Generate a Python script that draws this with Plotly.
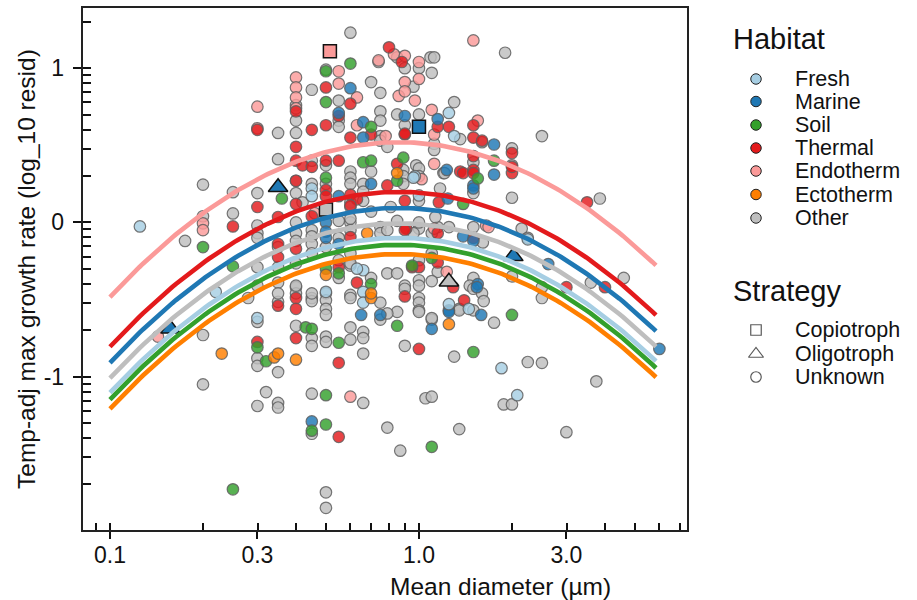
import numpy as np
import plotly.graph_objects as go

# ---------------- data ----------------
HABITATS = ["Fresh", "Marine", "Soil", "Thermal", "Endotherm", "Ectotherm", "Other"]
COLORS = ["#A6CEE3", "#1F78B4", "#33A02C", "#E31A1C", "#FB9A99", "#FF7F00", "#BEBEBE"]
STRATEGIES = ["Copiotroph", "Oligotroph", "Unknown"]

# (mean diameter um, temp-adj max growth rate log10 resid) for strategy = Unknown
other = [
    (0.60, 1.23), (0.85, 1.07), (0.74, 1.04), (0.50, 0.99), (0.70, 0.91), (0.45, 0.86), (0.75, 0.84), (0.55, 0.79),
    (0.40, 0.76), (0.40, 0.66), (0.55, 0.66), (0.75, 0.72), (0.75, 0.66), (0.35, 0.58), (0.40, 0.58), (0.55, 0.62),
    (0.35, 0.41), (0.45, 0.40), (0.50, 0.37), (0.70, 0.33), (0.60, 0.33), (0.60, 0.29), (0.40, 0.27), (0.45, 0.25),
    (0.50, 0.25), (0.60, 0.25), (0.66, 0.25), (0.66, 0.20), (0.30, 0.19), (0.40, 0.19), (0.42, 0.13), (0.60, 0.13),
    (0.30, -0.02), (0.40, 0.00), (0.45, -0.05), (0.60, 0.00), (0.60, -0.05), (0.55, -0.10), (0.45, -0.09),
    (1.90, 1.10), (1.09, 1.07), (1.12, 1.07), (0.90, 1.00), (1.00, 1.00), (1.10, 0.97), (0.96, 0.88), (1.30, 0.78),
    (1.00, 0.70), (0.90, 0.63), (1.36, 0.54), (1.60, 0.52), (2.50, 0.56), (1.12, 0.51), (1.12, 0.47), (1.50, 0.39),
    (2.00, 0.48), (2.00, 0.37), (1.20, 0.32), (2.00, 0.16), (0.89, 0.34), (0.89, 0.30), (0.89, 0.25), (0.98, 0.37),
    (1.17, 0.22), (1.50, 0.19), (1.25, -0.03), (1.50, -0.03), (2.15, -0.04), (1.00, -0.04), (2.25, -0.10), (3.85, 0.155),
    (2.50, -0.42), (4.60, -0.36), (3.60, -0.39), (2.00, -0.35), (2.50, -0.49), (2.25, -0.905), (2.50, -0.91), (3.75, -1.03),
    (1.88, -1.18), (2.00, -1.18), (3.00, -1.36), (1.15, -0.32), (1.10, -0.38), (0.90, -0.41), (0.90, -0.43), (1.00, -0.375),
    (1.00, -0.41), (1.00, -0.49), (1.00, -0.52), (1.00, -0.57), (1.50, -0.36), (1.46, -0.41), (1.50, -0.43), (1.60, -0.46),
    (1.62, -0.51), (1.35, -0.56), (1.10, -0.63), (1.75, -0.65),
    (0.90, -0.80), (1.30, -0.87), (1.05, -1.14), (1.10, -1.13), (1.35, -1.34), (0.87, -1.48),
    (0.30, -0.88), (0.30, -0.93), (0.30, -1.19), (0.32, -1.10), (0.35, -0.97), (0.35, -1.17), (0.35, -1.20), (0.35, -0.515),
    (0.40, -0.42), (0.40, -0.46), (0.40, -0.67), (0.45, -0.49), (0.45, -0.51), (0.45, -0.75), (0.45, -0.80), (0.45, -1.11),
    (0.45, -1.37), (0.50, -0.46), (0.50, -0.505), (0.50, -0.56), (0.50, -0.60), (0.50, -0.74), (0.50, -0.775), (0.55, -0.36),
    (0.60, -0.28), (0.60, -0.47), (0.60, -0.49), (0.60, -0.68), (0.60, -0.76), (0.66, -1.17), (0.66, -0.71), (0.66, -0.75),
    (0.66, -0.85), (0.70, -0.36), (0.75, -0.52), (0.75, -0.63), (0.79, -0.33), (0.85, -0.33), (0.85, -0.58), (0.79, -1.33),
    (0.50, -1.75), (0.50, -1.85), (0.79, -0.59), (1.00, -0.58), (1.35, -0.57), (1.50, -0.57), (1.10, -0.62),
    (0.175, -0.12), (0.20, 0.04), (0.20, 0.245), (0.25, 0.196), (0.25, 0.058), (0.30, -0.07), (0.30, -0.10), (0.30, -0.29),
    (0.30, -0.41), (0.20, -0.73), (0.20, -1.05), (0.30, -0.645), (0.28, -0.49),
    (0.60, 0.10), (0.60, 0.025), (0.60, -0.20), (0.60, -0.265), (0.55, 0.01), (0.55, -0.245), (0.50, 0.06), (0.50, -0.16),
    (0.45, -0.14), (0.45, -0.20), (0.45, -0.46), (0.40, -0.07), (0.40, -0.12), (0.40, -0.265), (0.40, -0.41), (0.35, -0.16),
    (0.35, -0.29), (0.35, -0.39), (0.35, -0.46), (0.66, 0.14), (0.70, 0.07), (0.75, -0.03), (0.75, -0.07), (0.79, -0.05),
    (0.85, 0.01), (0.96, -0.07), (1.00, -0.245), (1.10, -0.20), (1.10, -0.07), (1.15, -0.03), (1.61, -0.13),
    (0.75, 0.56), (0.75, 0.53), (0.79, 0.49), (0.85, 0.70), (0.81, 0.10), (1.00, 0.14), (1.00, 0.35), (1.00, 0.30),
    (1.13, 0.035), (1.00, 0.00), (1.21, 0.32),
]
endotherm = [
    (0.83, 1.09), (0.74, 1.05), (0.55, 0.98), (0.40, 0.94), (0.55, 0.90), (0.40, 0.875), (0.40, 0.81), (0.40, 0.74),
    (0.63, 0.81), (0.30, 0.75), (0.30, 0.61), (0.63, 0.63), (0.46, 0.06), (0.90, 1.08), (1.00, 1.04), (1.00, 0.93),
    (0.90, 0.91), (0.86, 0.82), (0.90, 0.85), (0.97, 0.79), (1.10, 0.73), (1.12, 0.57), (1.55, 0.66), (1.12, 0.38),
    (1.02, 0.28), (1.65, -0.02), (1.12, -0.04), (1.50, 1.18), (0.78, 0.56), (1.68, -0.03), (1.23, -0.32), (0.20, -0.006),
    (0.20, -0.05), (0.143, -0.74), (0.60, -1.13),
]
thermal = [
    (0.80, 1.135), (0.50, 0.875), (0.60, 0.77), (0.40, 0.72), (0.55, 0.69), (0.30, 0.60), (0.45, 0.60), (0.50, 0.63),
    (0.70, 0.57), (0.60, 0.55), (0.40, 0.49), (0.40, 0.40), (0.42, 0.37), (0.45, 0.36), (0.50, 0.40), (0.55, 0.40),
    (0.40, 0.27), (0.50, 0.21), (0.60, 0.18), (0.30, 0.10), (0.40, 0.12), (0.50, 0.17), (0.45, 0.04), (0.63, 0.15),
    (0.60, 0.11), (0.35, 0.035), (0.35, -0.14), (0.88, 1.04), (1.15, 0.62), (1.25, 0.62), (0.90, 0.57), (1.50, 0.63),
    (1.50, 0.55), (1.60, 0.53), (1.50, 0.43), (2.00, 0.45), (2.00, 0.32), (2.00, 0.36), (1.36, 0.33), (1.50, 0.34),
    (1.16, 0.13), (0.91, -0.04), (1.15, -0.07), (1.50, -0.10), (3.50, 0.13), (4.00, -0.42), (3.00, -0.42), (1.29, -0.42),
    (1.00, -0.29), (1.15, -0.26), (0.90, -0.48), (1.40, -0.505), (1.00, -0.82), (0.30, -0.775), (0.35, -0.54), (0.40, -0.49),
    (0.40, -0.56), (0.40, -0.75), (0.55, -0.91), (0.55, -1.39), (0.63, -0.39), (0.25, -0.026), (0.35, -0.225), (0.60, -0.095),
    (0.55, -0.29), (0.40, -0.17), (0.90, 0.575), (0.85, 0.38), (0.79, 0.24), (0.90, 0.14), (0.90, -0.05), (0.95, -0.29),
    (1.39, 0.32), (1.50, 0.32),
]
marine = [
    (0.60, 0.87), (0.55, 0.71), (0.66, 0.65), (0.66, 0.55), (0.70, 0.25), (0.55, 0.17), (0.50, 0.00), (0.90, 0.69),
    (1.15, 0.67), (1.75, 0.505), (1.23, 0.34), (1.75, 0.31), (1.50, 0.24), (1.24, 0.155), (1.39, -0.09), (2.62, -0.27),
    (6.00, -0.82), (1.55, -0.40), (1.25, -0.57), (1.59, -0.60), (1.10, -0.69), (0.45, -1.29), (0.65, -0.60), (0.75, -0.60),
    (1.25, -0.58), (0.50, -0.06), (0.50, -0.10), (0.55, -0.14), (1.50, 0.22), (1.50, -0.12), (1.54, -0.42),
]
soil = [
    (0.60, 1.03), (0.50, 0.98), (0.50, 0.78), (0.70, 0.62), (0.66, 0.39), (0.70, 0.40), (0.50, 0.29), (0.36, 0.155),
    (0.89, 0.42), (1.75, 0.40), (1.55, 0.285), (1.39, 0.12), (2.00, -0.60), (0.95, -0.28), (1.10, -0.23), (1.50, -0.84),
    (1.10, -1.455), (0.30, -0.81), (0.32, -0.90), (0.43, -0.68), (0.45, -0.69), (0.45, -1.35), (0.50, -1.12), (0.50, -1.31),
    (0.50, -0.30), (0.55, -0.33), (0.55, -0.78), (0.70, -0.40), (0.85, -0.67), (0.20, -0.16), (0.25, -0.285), (0.25, -1.73),
    (0.85, 0.27),
]
fresh = [
    (0.45, 0.22), (0.45, 0.17), (1.25, 0.71), (1.30, 0.56), (0.97, 0.30), (1.00, 0.175), (2.25, -0.11), (1.85, -0.945),
    (2.08, -1.12), (1.25, -0.53), (1.45, -0.56), (0.30, -0.62), (0.50, -0.45), (0.66, -0.31), (0.66, -0.45), (0.66, -0.52),
    (0.125, -0.026), (0.22, -0.45), (0.63, -0.30), (0.96, 0.29),
]
ectotherm = [
    (0.68, -0.07), (0.50, -0.34), (0.70, -0.49), (0.34, -0.875), (0.35, -0.85), (0.40, -0.89), (1.25, -0.66), (0.23, -0.85),
    (0.85, 0.32), (0.70, -0.46),
]
POINTS = {"Fresh": fresh, "Marine": marine, "Soil": soil, "Thermal": thermal,
          "Endotherm": endotherm, "Ectotherm": ectotherm, "Other": other}

# strains with known strategy: (habitat, strategy, x, y)
known_strategy = [
    ("Endotherm", "Copiotroph", 0.515, 1.11),
    ("Marine", "Copiotroph", 1.00, 0.62),
    ("Other", "Copiotroph", 0.50, 0.084),
    ("Marine", "Oligotroph", 0.35, 0.228),
    ("Other", "Oligotroph", 1.25, -0.385),
    ("Marine", "Oligotroph", 2.02, -0.22),
    ("Marine", "Oligotroph", 0.157, -0.69),
]

# fitted quadratic (in log10 diameter) per habitat: shared curvature, habitat offsets (peak values)
CURVE_PEAK = {"Endotherm": 0.52, "Thermal": 0.198, "Marine": 0.094, "Other": -0.006,
              "Fresh": -0.10, "Soil": -0.145, "Ectotherm": -0.205}
CURVE_CURV = 1.151
CURVE_CENTER = -0.066
CURVE_XMIN, CURVE_XMAX = 0.1, 5.85
CURVE_ORDER = ["Endotherm", "Thermal", "Marine", "Other", "Fresh", "Soil", "Ectotherm"]

X_TICKS = [0.1, 0.3, 1.0, 3.0]
X_TICKTEXT = ["0.1", "0.3", "1.0", "3.0"]
Y_TICKS = [-1, 0, 1]
Y_TICKTEXT = ["-1", "0", "1"]

# ---------------- figure ----------------
W, H = 917, 600
ML, MT, MB = 83, 8, 70
PLOT_R = 687
plot_w = W - ML
dom_main = (PLOT_R - ML) / plot_w
FONT = "Liberation Sans, Arial, sans-serif"
col = dict(zip(HABITATS, COLORS))

def rgba(hexc, a):
    h = hexc.lstrip("#")
    return "rgba(%d,%d,%d,%.2f)" % (int(h[0:2], 16), int(h[2:4], 16), int(h[4:6], 16), a)

fig = go.Figure()

draw_order = ["Other", "Endotherm", "Thermal", "Marine", "Soil", "Fresh", "Ectotherm"]
for h in draw_order:
    pts = POINTS[h]
    fig.add_trace(go.Scatter(
        x=[p[0] for p in pts], y=[p[1] for p in pts], mode="markers", showlegend=False,
        marker=dict(symbol="circle", size=11.5, color=rgba(col[h], 0.82),
                    line=dict(color="rgba(95,95,95,0.85)", width=1.2)),
        xaxis="x", yaxis="y"))

sym = {"Copiotroph": "square", "Oligotroph": "triangle-up", "Unknown": "circle"}
sz = {"Copiotroph": 13, "Oligotroph": 17, "Unknown": 12}
for h, s, x, y in known_strategy:
    fig.add_trace(go.Scatter(
        x=[x], y=[y], mode="markers", showlegend=False,
        marker=dict(symbol=sym[s], size=sz[s], color=col[h], line=dict(color="#111", width=1.5)),
        xaxis="x", yaxis="y"))

xc = np.logspace(np.log10(CURVE_XMIN), np.log10(CURVE_XMAX), 150)
for h in CURVE_ORDER:
    yc = CURVE_PEAK[h] - CURVE_CURV * (np.log10(xc) - CURVE_CENTER) ** 2
    fig.add_trace(go.Scatter(x=xc, y=yc, mode="lines", showlegend=False,
                             line=dict(color=col[h], width=4.6), xaxis="x", yaxis="y"))

# legend drawn on a pixel-based auxiliary axis
leg_hab_y = [79, 101.5, 125, 148, 171, 194.5, 218]
leg_str_y = [330, 354, 377]
MK_X, TX_X = 756, 793
fig.add_trace(go.Scatter(
    x=[MK_X] * len(HABITATS), y=leg_hab_y, mode="markers", showlegend=False, hoverinfo="skip",
    marker=dict(symbol="circle", size=10.5, color=COLORS, line=dict(color="#222", width=1)),
    xaxis="x2", yaxis="y2"))
fig.add_trace(go.Scatter(
    x=[MK_X] * 3, y=leg_str_y, mode="markers", showlegend=False, hoverinfo="skip",
    marker=dict(symbol=["square-open", "triangle-up-open", "circle-open"], size=[10.5, 13, 10.5],
                color="#111", line=dict(color="#111", width=1.2)),
    xaxis="x2", yaxis="y2"))

ann = []
ann.append(dict(x=731, y=39, xref="x2", yref="y2", text="Habitat", showarrow=False,
                xanchor="left", yanchor="middle", font=dict(family=FONT, size=29, color="#111")))
ann.append(dict(x=731, y=291, xref="x2", yref="y2", text="Strategy", showarrow=False,
                xanchor="left", yanchor="middle", font=dict(family=FONT, size=29, color="#111")))
for t, yy in zip(HABITATS, leg_hab_y):
    ann.append(dict(x=TX_X, y=yy, xref="x2", yref="y2", text=t, showarrow=False,
                    xanchor="left", yanchor="middle", font=dict(family=FONT, size=21.5, color="#111")))
for t, yy in zip(STRATEGIES, leg_str_y):
    ann.append(dict(x=TX_X, y=yy, xref="x2", yref="y2", text=t, showarrow=False,
                    xanchor="left", yanchor="middle", font=dict(family=FONT, size=21.5, color="#111")))
# axis titles
ann.append(dict(x=0.5, y=(530 - 586) / (H - MT - MB), xref="paper", yref="paper",
                text="Mean diameter (µm)", showarrow=False, xanchor="center", yanchor="middle",
                font=dict(family=FONT, size=24.5, color="#111")))
ann.append(dict(x=(26 - ML) / (PLOT_R - ML) * dom_main, y=0.5, xref="paper", yref="paper",
                text="Temp-adj max growth rate (log_10 resid)", textangle=-90, showarrow=False,
                xanchor="center", yanchor="middle", font=dict(family=FONT, size=24.5, color="#111")))

x_minor = [0.09, 0.1002, 0.2, 0.3006, 0.4, 0.5, 0.6, 0.7, 0.8, 0.9, 1.002, 2, 3.006, 4, 5, 6, 7]
y_minor_raw = [0.02, 0.03, 0.04, 0.05, 0.06, 0.07, 0.08, 0.09, 0.1, 0.2, 0.3, 0.4, 0.5, 0.6, 0.7, 0.8, 0.9,
               1, 2, 3, 4, 5, 6, 7, 8, 9, 10, 20]
y_minor = [float(np.log10(v)) + (0.0008 if abs(np.log10(v) - round(np.log10(v))) < 1e-9 else 0) for v in y_minor_raw]

fig.update_layout(
    width=W, height=H, margin=dict(l=ML, r=0, t=MT, b=MB),
    paper_bgcolor="white", plot_bgcolor="white",
    font=dict(family=FONT, color="#111"),
    annotations=ann,
    xaxis=dict(type="log", domain=[0, dom_main], range=[np.log10(0.0818), np.log10(7.37)],
               tickmode="array", tickvals=X_TICKS, ticktext=X_TICKTEXT,
               ticks="outside", ticklen=7, tickwidth=1.5, tickcolor="#111",
               tickfont=dict(family=FONT, size=23, color="#111"), ticklabelstandoff=-3,
               showline=True, linecolor="#222", linewidth=1.5, mirror=True,
               showgrid=False, zeroline=False, anchor="y",
               minor=dict(tickmode="array", tickvals=x_minor, ticks="inside", ticklen=7.5,
                          tickwidth=1.5, tickcolor="#111", showgrid=False)),
    yaxis=dict(domain=[0, 1], range=[-1.994, 1.39],
               tickmode="array", tickvals=Y_TICKS, ticktext=Y_TICKTEXT,
               ticks="outside", ticklen=8.5, tickwidth=1.5, tickcolor="#111",
               tickfont=dict(family=FONT, size=23, color="#111"), ticklabelstandoff=4,
               showline=True, linecolor="#222", linewidth=1.5, mirror=True,
               showgrid=False, zeroline=False, anchor="x",
               minor=dict(tickmode="array", tickvals=y_minor, ticks="inside", ticklen=8,
                          tickwidth=1.5, tickcolor="#111", showgrid=False)),
    xaxis2=dict(domain=[dom_main, 1], range=[PLOT_R, W], visible=False, anchor="y2", fixedrange=True),
    yaxis2=dict(domain=[0, 1], range=[H - MB, MT], visible=False, anchor="x2", fixedrange=True),
    showlegend=False,
)

fig.write_html("out.html", config={"displayModeBar": False},
               post_script="document.body.style.margin='0';document.body.style.padding='0';")
